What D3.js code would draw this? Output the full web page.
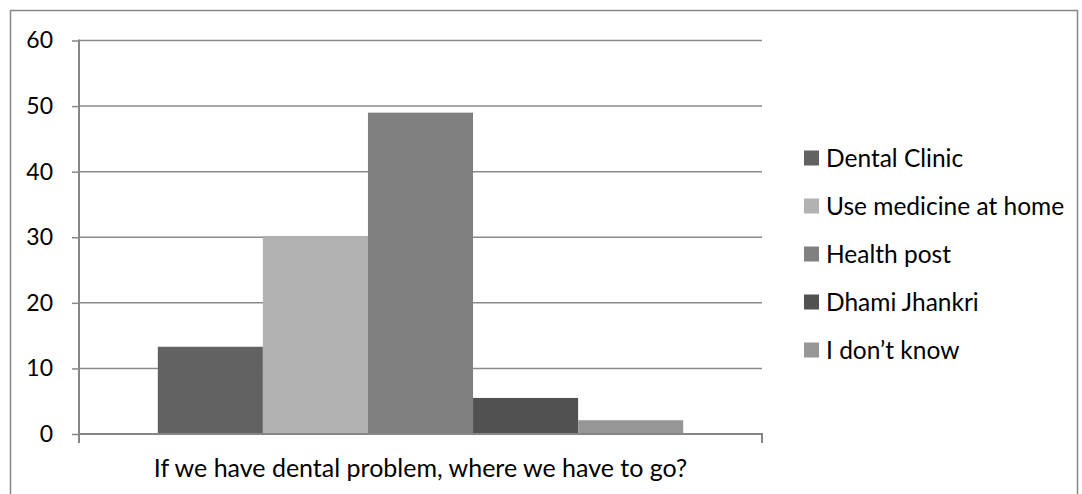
<!DOCTYPE html>
<html>
<head>
<meta charset="utf-8">
<script src="https://cdn.jsdelivr.net/npm/d3@7"></script>
<style>
  html, body { margin: 0; padding: 0; background: #fff; }
  svg { display: block; }
  text { font-family: Lato, "Open Sans", sans-serif; fill: #000; }
</style>
</head>
<body>
<svg id="chart" width="1082" height="494"></svg>
<script>
// Survey answers: where people go for a dental problem (percent of respondents)
const categoryLabel = "If we have dental problem, where we have to go?";
const seriesNames = ["Dental Clinic", "Use medicine at home", "Health post", "Dhami Jhankri", "I don\u2019t know"];
const seriesValues = [13.3, 30.2, 49.0, 5.5, 2.1];
const seriesColors = ["#626262", "#b2b2b2", "#808080", "#515151", "#969696"];
const yTicks = [0, 10, 20, 30, 40, 50, 60];

const svg = d3.select("#chart");

// outer chart frame
svg.append("rect")
  .attr("x", 10.5).attr("y", 10.5)
  .attr("width", 1067).attr("height", 500)
  .attr("fill", "none").attr("stroke", "#868686").attr("stroke-width", 1.5);

const plot = { left: 79, right: 762, top: 40.5, bottom: 434 };

const y = d3.scaleLinear().domain([0, 60]).range([plot.bottom, plot.top]);
const x = d3.scaleBand()
  .domain(seriesNames)
  .range([plot.left, plot.right])
  .paddingInner(0)
  .paddingOuter(0.75);

// horizontal gridlines
svg.append("g")
  .selectAll("line")
  .data(yTicks.filter(t => t > 0))
  .join("line")
  .attr("x1", plot.left).attr("x2", plot.right)
  .attr("y1", d => y(d)).attr("y2", d => y(d))
  .attr("stroke", "#8a8a8a").attr("stroke-width", 1.5);

// bars
svg.append("g")
  .selectAll("rect")
  .data(seriesNames.map((n, i) => ({ name: n, value: seriesValues[i], color: seriesColors[i] })))
  .join("rect")
  .attr("x", d => x(d.name))
  .attr("width", x.bandwidth())
  .attr("y", d => y(d.value))
  .attr("height", d => y(0) - y(d.value))
  .attr("fill", d => d.color);

// value axis
const yAxis = d3.axisLeft(y).tickValues(yTicks).tickSize(7).tickPadding(19);
const gy = svg.append("g").attr("transform", `translate(${plot.left},0)`).call(yAxis);
gy.select(".domain").remove();
gy.append("line")
  .attr("x1", 0).attr("x2", 0)
  .attr("y1", plot.top - 1).attr("y2", plot.bottom + 9)
  .attr("stroke", "#868686").attr("stroke-width", 2);
gy.selectAll(".tick line").attr("stroke", "#868686").attr("stroke-width", 1.5);
gy.selectAll(".tick text")
  .style("font-family", "Lato, sans-serif")
  .style("font-size", "23px")
  .attr("fill", "#000");

// category axis: baseline plus end tick mark
const gx = svg.append("g");
gx.append("line")
  .attr("x1", plot.left).attr("x2", plot.right + 1)
  .attr("y1", plot.bottom).attr("y2", plot.bottom)
  .attr("stroke", "#868686").attr("stroke-width", 2);
gx.append("line")
  .attr("x1", plot.right).attr("x2", plot.right)
  .attr("y1", plot.bottom).attr("y2", plot.bottom + 9)
  .attr("stroke", "#868686").attr("stroke-width", 2);
gx.append("text")
  .attr("x", (plot.left + plot.right) / 2)
  .attr("y", 477)
  .attr("text-anchor", "middle")
  .style("font-size", "25px")
  .text(categoryLabel);

// legend
const legend = svg.append("g").attr("transform", "translate(804,0)");
const rows = legend.selectAll("g")
  .data(seriesNames.map((n, i) => ({ name: n, color: seriesColors[i] })))
  .join("g")
  .attr("transform", (d, i) => `translate(0,${158 + i * 48})`);
rows.append("rect")
  .attr("x", 0).attr("y", -7.5)
  .attr("width", 15).attr("height", 15)
  .attr("fill", d => d.color);
rows.append("text")
  .attr("x", 22).attr("y", 8.5)
  .style("font-size", "24.5px")
  .text(d => d.name);
</script>
</body>
</html>
